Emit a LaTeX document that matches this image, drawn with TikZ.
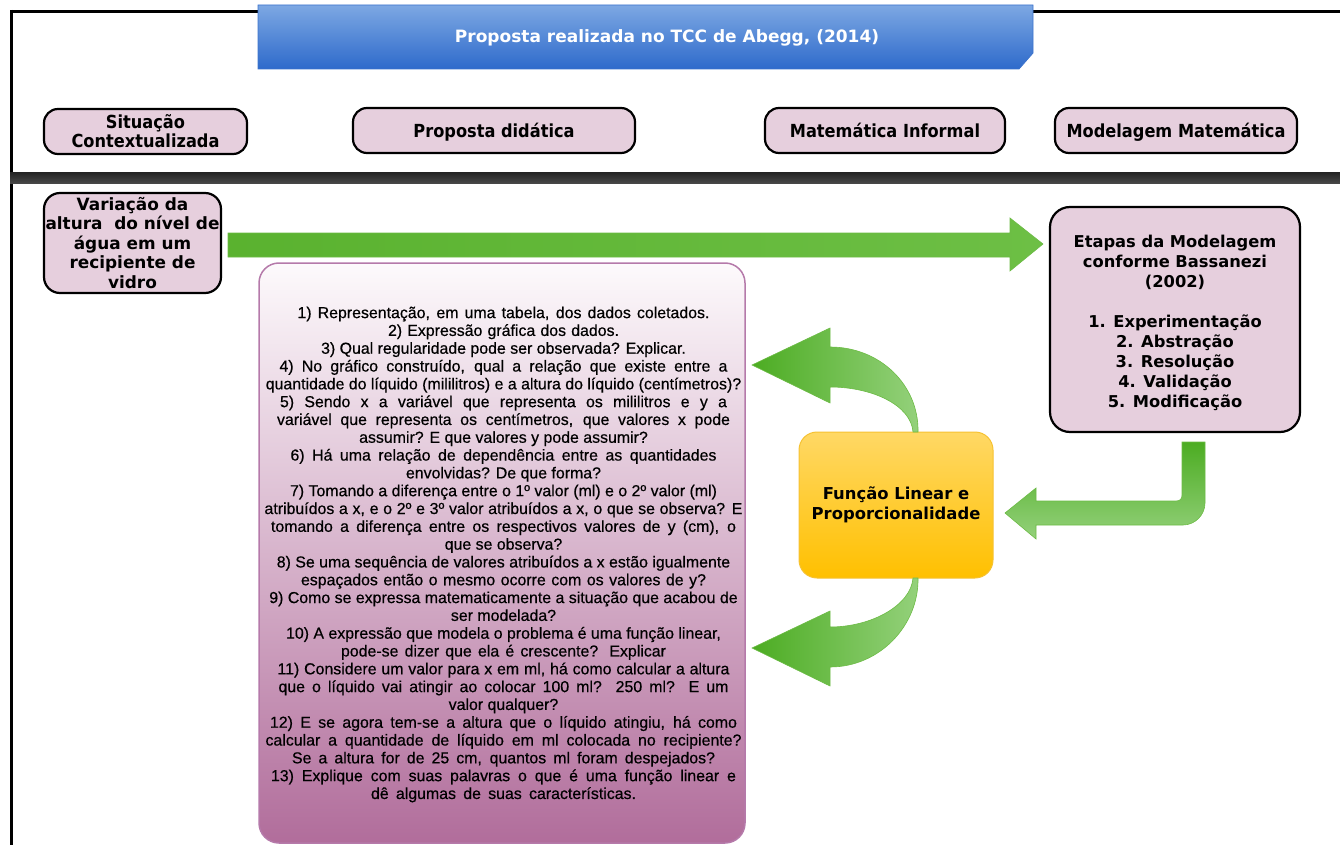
\documentclass[tikz,border=0pt]{standalone}
\usepackage{fontspec}
\setmainfont{DejaVu Sans}
\newfontfamily\condfont[FakeStretch=0.9]{DejaVu Sans}
\newfontfamily\arialfont[FakeBold=0.5]{Liberation Sans}
\usetikzlibrary{calc}

\definecolor{pinkbox}{HTML}{E6CFDD}
\definecolor{qborder}{HTML}{B57AAA}
\definecolor{qtop}{HTML}{FDFAFC}
\definecolor{qmid}{HTML}{DDBCD1}
\definecolor{qbot}{HTML}{B16D9B}
\definecolor{bannertop}{HTML}{7DA8E3}
\definecolor{bannerbot}{HTML}{2E6ACB}
\definecolor{bannerline}{HTML}{3C73CC}
\definecolor{gdark}{HTML}{4CAC22}
\definecolor{glight}{HTML}{94D17B}
\definecolor{gleft}{HTML}{5AB22F}
\definecolor{gright}{HTML}{6DBF45}
\definecolor{gedge}{HTML}{6CBB45}
\definecolor{ytop}{HTML}{FFD865}
\definecolor{ybot}{HTML}{FFC000}
\definecolor{yedge}{HTML}{F6C232}
\definecolor{bandtop}{HTML}{262626}
\definecolor{bandmid}{HTML}{B0B0B0}
\definecolor{bandbot}{HTML}{4A4A4A}

% question lines: stretched to a given width when wider than natural
\newlength\qlen
\newcommand\qfit[2]{\settowidth\qlen{#2}\ifdim\qlen<#1pt\makebox[#1pt][s]{#2}\else#2\fi}
\newcommand\qline[3]{\node[qtext] (q#1) at (503.5,{318.1+17.81*(#1-1)}) {\qfit{#2}{#3}};}

\tikzset{
  every node/.style={outer sep=0pt},
  hdr/.style={draw=black, line width=2.2pt, fill=pinkbox, rounded corners=14pt,
    minimum height=45pt, inner sep=0pt, align=center,
    font=\condfont\bfseries\fontsize{18}{19}\selectfont},
  hdrone/.style={hdr, text height=15pt, text depth=1pt},
  pinkcard/.style={draw=black, line width=2.2pt, fill=pinkbox, inner sep=0pt, align=center},
  qtext/.style={anchor=base, inner sep=0pt, text=black,
    font=\arialfont\fontsize{15.9}{17}\selectfont},
  garrow/.style={draw=gedge, line width=0.6pt}
}

\begin{document}
\begin{tikzpicture}[x=1pt,y=-1pt]
\useasboundingbox (0,0) rectangle (1340,845);
\clip (0,0) rectangle (1340,845);

% frame lines and separator band
\draw[line width=3pt] (10,11.5) -- (1340,11.5);
\draw[line width=3pt] (11.5,10) -- (11.5,845);
\shade[top color=bandtop, middle color=bandmid, bottom color=bandbot] (10,173) rectangle (1340,184);

% title banner
\shadedraw[top color=bannertop, bottom color=bannerbot, draw=bannerline, line width=0.8pt]
  (258,5) -- (1033,5) -- (1033,53) -- (1019,69) -- (258,69) -- cycle;
\node[text=white, font=\bfseries\fontsize{17}{20}\selectfont] (titulo) at (667,38)
  {Proposta realizada no TCC de Abegg, (2014)};

% column headers
\node[hdr, minimum width=203pt] (sit) at (145.5,131.5) {Situação\\Contextualizada};
\node[hdrone, minimum width=282pt] (prop) at (494,130.5) {Proposta didática};
\node[hdrone, minimum width=240pt] (mi) at (885,130.5) {Matemática Informal};
\node[hdrone, minimum width=242pt] (mm) at (1176,130.5) {Modelagem Matemática};

% situation card
\node[pinkcard, rounded corners=16pt, minimum width=177pt, minimum height=100pt,
  font=\bfseries\fontsize{16.9}{19.5}\selectfont] (var) at (132.5,243)
  {Variação da\\altura\ \ do nível de\\água em um\\recipiente de\\vidro};

% modelling stages card
\node[pinkcard, rounded corners=20pt, minimum width=250pt, minimum height=225pt,
  font=\bfseries\fontsize{16.3}{20}\selectfont] (etapas) at (1175,319.5)
  {\rule{0pt}{18.5pt}Etapas da Modelagem\\conforme Bassanezi\\(2002)\\[20pt]1. Experimentação\\2. Abstração\\3. Resolução\\4. Validação\\5. Modificação};

% didactic proposal card
\node[draw=qborder, line width=1.5pt, rounded corners=20pt,
  top color=qtop, middle color=qmid, bottom color=qbot,
  minimum width=486pt, minimum height=580pt, inner sep=0pt] (quest) at (502,553) {};

% central concept
\node[draw=yedge, line width=1pt, rounded corners=18pt, top color=ytop, bottom color=ybot,
  minimum width=194pt, minimum height=146pt, inner sep=0pt, align=center,
  font=\bfseries\fontsize{16.4}{20}\selectfont] (fl) at (896,505)
  {Função Linear e\\Proporcionalidade};

% questions
\qline{1}{412}{1) Representação, em uma tabela, dos dados coletados.}
\qline{2}{231}{2) Expressão gráfica dos dados.}
\qline{3}{0}{3) Qual regularidade pode ser observada? Explicar.}
\qline{4}{448}{4) No gráfico construído, qual a relação que existe entre a}
\qline{5}{0}{quantidade do líquido (mililitros) e a altura do líquido (centímetros)?}
\qline{6}{447}{5) Sendo x a variável que representa os mililitros e y a}
\qline{7}{453}{variável que representa os centímetros, que valores x pode}
\qline{8}{286}{assumir? E que valores y pode assumir?}
\qline{9}{426}{6) Há uma relação de dependência entre as quantidades}
\qline{10}{0}{envolvidas? De que forma?}
\qline{11}{422}{7) Tomando a diferença entre o 1º valor (ml) e o 2º valor (ml)}
\qline{12}{478}{atribuídos a x, e o 2º e 3º valor atribuídos a x, o que se observa? E}
\qline{13}{465}{tomando a diferença entre os respectivos valores de y (cm), o}
\qline{14}{0}{que se observa?}
\qline{15}{452}{8) Se uma sequência de valores atribuídos a x estão igualmente}
\qline{16}{405}{espaçados então o mesmo ocorre com os valores de y?}
\qline{17}{459}{9) Como se expressa matematicamente a situação que acabou de}
\qline{18}{0}{ser modelada?}
\qline{19}{432}{10) A expressão que modela o problema é uma função linear,}
\qline{20}{325}{pode-se dizer que ela é crescente? Explicar}
\qline{21}{452}{11) Considere um valor para x em ml, há como calcular a altura}
\qline{22}{450}{que o líquido vai atingir ao colocar 100 ml? 250 ml? E um}
\qline{23}{0}{valor qualquer?}
\qline{24}{467}{12) E se agora tem-se a altura que o líquido atingiu, há como}
\qline{25}{476}{calcular a quantidade de líquido em ml colocada no recipiente?}
\qline{26}{423}{Se a altura for de 25 cm, quantos ml foram despejados?}
\qline{27}{465}{13) Explique com suas palavras o que é uma função linear e}
\qline{28}{265}{dê algumas de suas características.}

% long arrow: situation -> modelling stages
\coordinate (ha start) at ($(var.east)+(7,2)$);
\coordinate (ha tip) at ($(var.east -| etapas.west)+(-7,1)$);
\shadedraw[garrow, left color=gleft, right color=gright]
  ($(ha start)+(0,-12)$) -- ($(ha tip)+(-33,-11)$) -- ($(ha tip)+(-33,-26)$) -- (ha tip)
  -- ($(ha tip)+(-33,27)$) -- ($(ha tip)+(-33,13)$) -- ($(ha start)+(0,12)$) -- cycle;

% bent arrow: modelling stages -> central concept
\coordinate (ra start) at ($(etapas.south)+(18.5,10)$);
\coordinate (ra tip) at ($(fl.east)+(12,8)$);
\shadedraw[garrow, top color=gdark, bottom color=glight]
  ($(ra start)+(-11.5,0)$) -- ($(ra start)+(11.5,0)$) -- ($(ra start |- ra tip)+(11.5,-10)$)
  .. controls ($(ra start |- ra tip)+(11.5,2)$) and ($(ra start |- ra tip)+(1.5,12)$)
  .. ($(ra start |- ra tip)+(-10.5,12)$)
  -- ($(ra tip)+(31,12)$) -- ($(ra tip)+(31,26)$) -- (ra tip) -- ($(ra tip)+(31,-25)$)
  -- ($(ra tip)+(31,-12)$) -- ($(ra start |- ra tip)+(-17.5,-12)$)
  .. controls ($(ra start |- ra tip)+(-13.5,-12)$) and ($(ra start |- ra tip)+(-11.5,-14)$)
  .. ($(ra start |- ra tip)+(-11.5,-18)$) -- cycle;

% curved arrow: central concept -> proposal (upper)
\coordinate (ua tip) at ($(quest.north east)+(7,102)$);
\coordinate (ua base) at ($(fl.north)+(20,0)$);
\shadedraw[garrow, left color=gdark, right color=glight]
  (ua tip) -- ($(ua tip)+(78,-37)$) -- ($(ua tip)+(78,-18)$)
  .. controls ($(ua tip)+(128,-18)$) and ($(ua base)+(3,-47)$) .. ($(ua base)+(2,0)$)
  -- ($(ua base)+(-3,0)$)
  .. controls ($(ua base)+(-5,-27)$) and ($(ua tip)+(120,22)$) .. ($(ua tip)+(78,22)$)
  -- ($(ua tip)+(78,38)$) -- cycle;

% curved arrow: central concept -> proposal (lower)
\coordinate (la tip) at ($(quest.north east)+(7,385)$);
\coordinate (la base) at ($(fl.south)+(20,0)$);
\shadedraw[garrow, left color=gdark, right color=glight]
  (la tip) -- ($(la tip)+(78,-37)$) -- ($(la tip)+(78,-21)$)
  .. controls ($(la tip)+(120,-21)$) and ($(la base)+(-5,27)$) .. ($(la base)+(-3,0)$)
  -- ($(la base)+(2,0)$)
  .. controls ($(la base)+(3,47)$) and ($(la tip)+(128,19)$) .. ($(la tip)+(78,19)$)
  -- ($(la tip)+(78,38)$) -- cycle;
\end{tikzpicture}
\end{document}
